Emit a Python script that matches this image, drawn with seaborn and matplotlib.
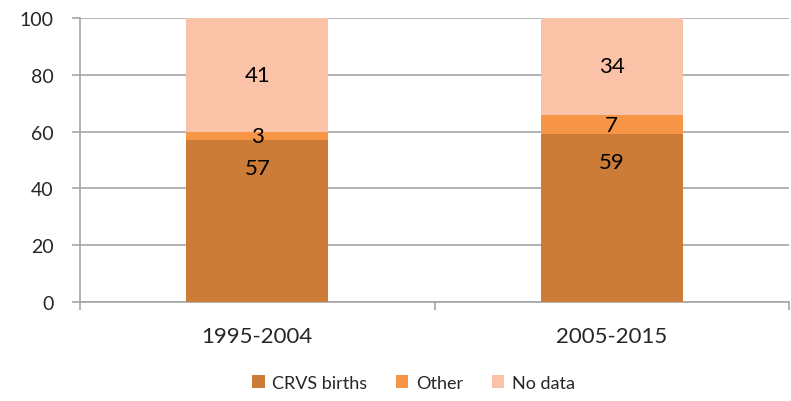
import numpy as np
import pandas as pd
import matplotlib.pyplot as plt
import seaborn as sns

# data
periods = ['1995-2004', '2005-2015']
crvs_births = [57, 59]
other = [3, 7]
no_data = [41, 34]

series_names = ['CRVS births', 'Other', 'No data']
colors = ['#CC7B38', '#F79646', '#FAC3A8']

df = pd.DataFrame({'Period': periods, 'CRVS births': crvs_births,
                   'Other': other, 'No data': no_data})

sns.set_style('white')
plt.rcParams['font.family'] = ['Lato', 'DejaVu Sans']

fig = plt.figure(figsize=(7.91, 4.02), dpi=100)
ax = fig.add_axes([80 / 791, 99 / 402, 709 / 791, 284 / 402])

bottom = np.zeros(len(periods))
for k, (name, col) in enumerate(zip(series_names, colors)):
    sns.barplot(data=df, x='Period', y=name, color=col, bottom=bottom,
                width=0.4, ax=ax, label=name, saturation=1, zorder=3,
                linewidth=0, edgecolor='none')
    vals = df[name].values
    for i, v in enumerate(vals):
        if k == 0:
            # bottom series labels sit near the inside end of the bar
            ax.annotate(str(v), (i, bottom[i] + v), xytext=(0, -20),
                        textcoords='offset points', ha='center', va='center',
                        fontsize=16, color='black', zorder=4)
        else:
            mid = min(bottom[i] + v / 2, (bottom[i] + 100) / 2)
            ax.text(i, mid, str(v), ha='center', va='center',
                    fontsize=16, color='black', zorder=4)
    bottom = bottom + vals

ax.set_xlim(-0.5, 1.5)
ax.set_ylim(0, 100)
ax.set_yticks(range(0, 101, 20))
ax.set_xlabel('')
ax.set_ylabel('')
ax.yaxis.grid(True, color='#A6A6A6', linewidth=1.2, zorder=0)

for s in ['top', 'right']:
    ax.spines[s].set_visible(False)
for s in ['left', 'bottom']:
    ax.spines[s].set_color('#A6A6A6')
    ax.spines[s].set_linewidth(1.2)

ax.tick_params(axis='y', length=6, width=1.2, color='#A6A6A6', labelsize=14, pad=13, left=True)
ax.tick_params(axis='x', which='major', length=0, labelsize=16, pad=17)
ax.set_xticks([-0.5, 0.5, 1.5], minor=True)
ax.tick_params(axis='x', which='minor', length=6, width=1.2, color='#A6A6A6', bottom=True)

ax.legend(loc='center', bbox_to_anchor=(0.47, -0.285),
          ncol=3, frameon=False, fontsize=13, handlelength=0.7, handleheight=0.7,
          handletextpad=0.4, columnspacing=1.6)

fig.savefig('out.png', dpi=100)
